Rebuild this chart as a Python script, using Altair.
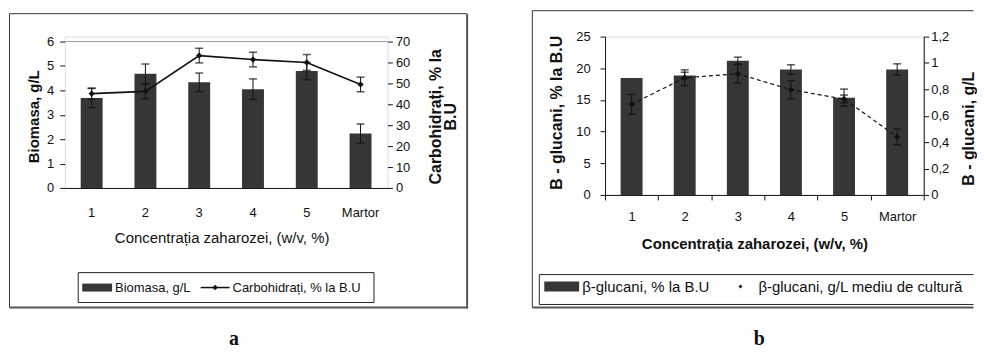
import altair as alt
import pandas as pd

# ---------------- data ----------------
categories = ["1", "2", "3", "4", "5", "Martor"]

# panel a
biomasa = [3.69, 4.68, 4.33, 4.05, 4.79, 2.23]
biomasa_err = [0.40, 0.40, 0.38, 0.42, 0.35, 0.39]
carbohidrati = [45.1, 46.2, 63.3, 61.4, 60.0, 49.5]
carbohidrati_err = [2.5, 3.5, 3.5, 3.5, 3.8, 3.5]

# panel b
glucani_pct = [18.45, 18.87, 21.2, 19.8, 15.36, 19.8]
glucani_pct_err = [0.0, 0.5, 0.55, 0.75, 1.35, 0.9]
glucani_gl = [0.687, 0.888, 0.918, 0.797, 0.727, 0.44]
glucani_gl_err = [0.075, 0.06, 0.07, 0.068, 0.03, 0.06]

left_a_ticks = [0, 1, 2, 3, 4, 5, 6]
right_a_ticks = [0, 10, 20, 30, 40, 50, 60, 70]
left_b_ticks = [0, 5, 10, 15, 20, 25]
right_b_ticks = [0, 0.2, 0.4, 0.6, 0.8, 1.0, 1.2]

x_title = "Concentrația zaharozei, (w/v, %)"

dfa = pd.DataFrame({
    "cat": categories,
    "bio": biomasa,
    "bio_lo": [v - e for v, e in zip(biomasa, biomasa_err)],
    "bio_hi": [v + e for v, e in zip(biomasa, biomasa_err)],
    "carb": carbohidrati,
    "carb_lo": [v - e for v, e in zip(carbohidrati, carbohidrati_err)],
    "carb_hi": [v + e for v, e in zip(carbohidrati, carbohidrati_err)],
})
dfb = pd.DataFrame({
    "cat": categories,
    "pct": glucani_pct,
    "pct_lo": [v - e for v, e in zip(glucani_pct, glucani_pct_err)],
    "pct_hi": [v + e for v, e in zip(glucani_pct, glucani_pct_err)],
    "gl": glucani_gl,
    "gl_lo": [v - e for v, e in zip(glucani_gl, glucani_gl_err)],
    "gl_hi": [v + e for v, e in zip(glucani_gl, glucani_gl_err)],
})
grid_a = pd.DataFrame({"g": [left_a_ticks[-1]]})
one = pd.DataFrame({"k": [0]})

INK = "#111111"
BAR = "#363636"
FONT = "Liberation Sans"

# ---------------- decoration helpers ----------------
def hline(x1, x2, y, color="#333333", w=1.0):
    return alt.Chart(one).mark_rule(color=color, strokeWidth=w).encode(
        x=alt.value(x1), x2=alt.value(x2), y=alt.value(y))

def vline(x, y1, y2, color="#333333", w=1.0):
    return alt.Chart(one).mark_rule(color=color, strokeWidth=w).encode(
        x=alt.value(x), y=alt.value(y1), y2=alt.value(y2))

def label(x, y, s, size=13, weight="normal", font=FONT, align="left"):
    return alt.Chart(one).mark_text(text=s, fontSize=size, fontWeight=weight, font=font,
                                    align=align, baseline="middle", color=INK).encode(
        x=alt.value(x), y=alt.value(y))

def swatch(x1, x2, y1, y2):
    return alt.Chart(one).mark_rect(color=BAR).encode(
        x=alt.value(x1), x2=alt.value(x2), y=alt.value(y1), y2=alt.value(y2))

def marker(x, y, size=36):
    return alt.Chart(one).mark_point(shape="diamond", filled=True, size=size, color=INK,
                                     opacity=1).encode(x=alt.value(x), y=alt.value(y))

# ---------------- panel a ----------------
WA, HA = 324, 152
scale_x = alt.Scale(domain=categories, paddingInner=0, paddingOuter=0)

def xa():
    return alt.X("cat:N", sort=categories, scale=scale_x, axis=alt.Axis(
        orient="bottom", domain=True, domainColor=INK, ticks=False, tickSize=0, labelAngle=0,
        labelFontSize=13, labelPadding=25, labelBaseline="middle", labelColor=INK,
        title=x_title, titleFontSize=15, titleFontWeight="normal", titleColor=INK,
        titleX=157.5, titleY=50, titleBaseline="middle", titleAlign="center"))

def ya_left(field):
    return alt.Y(field, scale=alt.Scale(domain=[0, 6 * HA / 147], nice=False, zero=True),
                 axis=alt.Axis(orient="left", values=left_a_ticks, domain=False, ticks=True,
                               tickSize=5, tickColor=INK, labelPadding=6, labelFontSize=13,
                               labelColor=INK, grid=False, title="Biomasa, g/L",
                               titleFontSize=15, titleFontWeight="bold", titleColor=INK,
                               titleAngle=270, titleX=-31.5, titleY=80,
                               titleBaseline="middle", titleAlign="center"))

def ya_right(field):
    return alt.Y(field, scale=alt.Scale(domain=[0, 70 * HA / 147], nice=False, zero=True),
                 axis=alt.Axis(orient="right", values=right_a_ticks, domain=False, ticks=True,
                               tickSize=5, tickColor=INK, labelPadding=3, labelFontSize=13,
                               labelColor=INK, grid=False,
                               title=["Carbohidrați, % la", "B.U"],
                               titleFontSize=16, titleFontWeight="bold", titleColor=INK,
                               titleAngle=270, titleX=48, titleY=80, titleLineHeight=15,
                               titleBaseline="middle", titleAlign="center"))

base_a = alt.Chart(dfa)
left_a = alt.layer(
    alt.Chart(grid_a).mark_rule(color="#9a9a9a", strokeWidth=1).encode(y=ya_left("g:Q")),
    base_a.mark_bar(size=22, color=BAR).encode(x=xa(), y=ya_left("bio:Q")),
    base_a.mark_rule(color=INK, strokeWidth=1).encode(x=xa(), y=ya_left("bio_lo:Q"), y2="bio_hi:Q"),
    base_a.mark_tick(size=8, thickness=1.5, color=INK).encode(x=xa(), y=ya_left("bio_hi:Q")),
    base_a.mark_tick(size=8, thickness=1.5, color=INK).encode(x=xa(), y=ya_left("bio_lo:Q")),
)
right_a = alt.layer(
    base_a.mark_line(color=INK, strokeWidth=1.6).encode(x=xa(), y=ya_right("carb:Q")),
    base_a.mark_rule(color=INK, strokeWidth=1).encode(x=xa(), y=ya_right("carb_lo:Q"), y2="carb_hi:Q"),
    base_a.mark_tick(size=8, thickness=1.5, color=INK).encode(x=xa(), y=ya_right("carb_hi:Q")),
    base_a.mark_tick(size=8, thickness=1.5, color=INK).encode(x=xa(), y=ya_right("carb_lo:Q")),
    base_a.mark_point(shape="diamond", filled=True, size=40, color=INK, opacity=1).encode(
        x=xa(), y=ya_right("carb:Q")),
)
decor_a = [
    # outer frame with shadow
    hline(-55.5, 403.5, -23), vline(-55.5, -23, 272),
    hline(-55.5, 404.5, 272, "#555555", 2), vline(404, -23, 273, "#555555", 2),
    # legend box
    hline(13.5, 310.5, 237, "#222222"), hline(13.5, 310.5, 267, "#222222"),
    vline(13.5, 237, 267, "#222222"), vline(310.5, 237, 267, "#222222"),
    swatch(17.5, 47.5, 248, 256),
    label(50.5, 252, "Biomasa, g/L", 13),
    hline(136.5, 165.5, 252, INK, 1.5), marker(151, 252, 30),
    label(168.5, 252, "Carbohidrați, % la B.U", 13),
    label(170, 304, "a", 20, "bold", "Liberation Serif", "center"),
]
panel_a = alt.layer(*decor_a, left_a, right_a).resolve_scale(y="independent").properties(
    width=WA, height=HA)

# ---------------- panel b ----------------
WB, HB = 320, 159

def xb():
    return alt.X("cat:N", sort=categories, scale=scale_x, axis=alt.Axis(
        orient="bottom", domain=True, domainColor=INK, ticks=True, tickBand="extent",
        tickSize=5, tickColor=INK, labelAngle=0,
        labelFontSize=13, labelPadding=17, labelBaseline="middle", labelColor=INK,
        title=x_title, titleFontSize=15, titleFontWeight="bold", titleColor=INK,
        titleX=150, titleY=49, titleBaseline="middle", titleAlign="center"))

def yb_left(field):
    return alt.Y(field, scale=alt.Scale(domain=[0, 25], nice=False, zero=True),
                 axis=alt.Axis(orient="left", values=left_b_ticks, domain=True, domainColor=INK,
                               ticks=True, tickSize=5, tickColor=INK, labelPadding=10,
                               labelFontSize=13, labelColor=INK, grid=False,
                               title="B - glucani, % la B.U",
                               titleFontSize=16, titleFontWeight="bold", titleColor=INK,
                               titleAngle=270, titleX=-48.5, titleY=76,
                               titleBaseline="middle", titleAlign="center"))

def yb_right(field):
    return alt.Y(field, scale=alt.Scale(domain=[0, 1.2], nice=False, zero=True),
                 axis=alt.Axis(orient="right", values=right_b_ticks, domain=True, domainColor=INK,
                               ticks=True, tickSize=5, tickColor=INK, labelPadding=2,
                               labelFontSize=13, labelColor=INK, grid=False,
                               labelExpr="replace(format(datum.value, '~g'), '.', ',')",
                               title="B - glucani, g/L",
                               titleFontSize=16, titleFontWeight="bold", titleColor=INK,
                               titleAngle=270, titleX=45, titleY=92,
                               titleBaseline="middle", titleAlign="center"))

base_b = alt.Chart(dfb)
err_b = base_b.transform_filter("datum.pct_hi > datum.pct_lo")
left_b = alt.layer(
    base_b.mark_bar(size=22, color=BAR).encode(x=xb(), y=yb_left("pct:Q")),
    err_b.mark_rule(color=INK, strokeWidth=1).encode(x=xb(), y=yb_left("pct_lo:Q"), y2="pct_hi:Q"),
    err_b.mark_tick(size=8, thickness=1.5, color=INK).encode(x=xb(), y=yb_left("pct_hi:Q")),
    err_b.mark_tick(size=8, thickness=1.5, color=INK).encode(x=xb(), y=yb_left("pct_lo:Q")),
)
right_b = alt.layer(
    base_b.mark_line(color=INK, strokeWidth=1.2, strokeDash=[4, 3]).encode(x=xb(), y=yb_right("gl:Q")),
    base_b.mark_rule(color=INK, strokeWidth=1).encode(x=xb(), y=yb_right("gl_lo:Q"), y2="gl_hi:Q"),
    base_b.mark_tick(size=8, thickness=1.5, color=INK).encode(x=xb(), y=yb_right("gl_hi:Q")),
    base_b.mark_tick(size=8, thickness=1.5, color=INK).encode(x=xb(), y=yb_right("gl_lo:Q")),
    base_b.mark_point(shape="diamond", filled=True, size=40, color=INK, opacity=1).encode(
        x=xb(), y=yb_right("gl:Q")),
)
decor_b = [
    # outer frame (right side runs past the picture edge)
    hline(-73, 370, -26), vline(-73, -26, 272),
    hline(-73, 370, 272, "#555555", 2),
    # legend box
    hline(-66, 370, 239, "#222222"), hline(-66, 370, 269, "#222222"),
    vline(-66, 239, 269, "#222222"),
    swatch(-61, -26, 246, 256),
    label(-23, 251, "β-glucani, % la B.U", 15),
    marker(136, 251, 16),
    label(154, 251, "β-glucani, g/L mediu de cultură", 15),
    label(155, 304, "b", 20, "bold", "Liberation Serif", "center"),
]
panel_b = alt.layer(*decor_b, left_b, right_b).resolve_scale(y="independent").properties(
    width=WB, height=HB)

chart = alt.hconcat(panel_a, panel_b, spacing=218.5, bounds="flush").properties(
    padding={"left": 0, "top": 1, "right": 0, "bottom": 0},
    background="white",
).configure_view(stroke="transparent").configure(font=FONT)

chart.save("out.html", embed_options={"renderer": "svg", "actions": False})
